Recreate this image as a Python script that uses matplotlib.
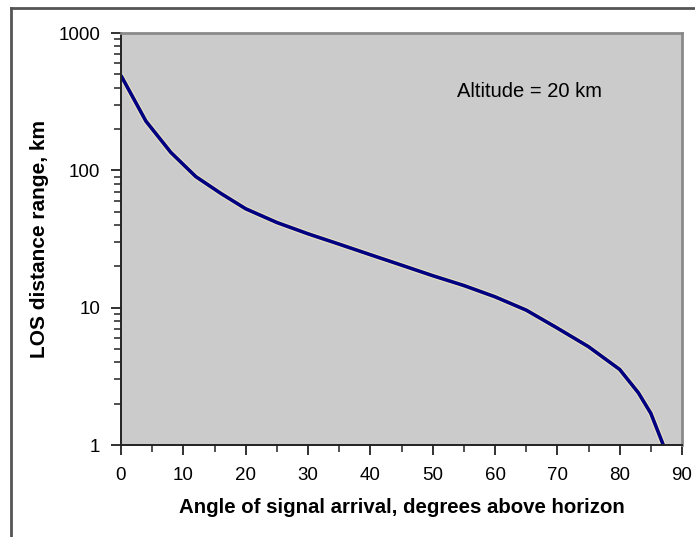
import matplotlib
matplotlib.use("Agg")
import matplotlib.pyplot as plt
import matplotlib.patheffects as pe
from matplotlib.lines import Line2D
from matplotlib.ticker import FixedLocator, NullFormatter, LogLocator, MultipleLocator

# ─── Data ────────────────────────────────────────────────────────────────────

angle_deg = [0, 4, 8, 12, 16, 20, 25, 30, 35, 40, 45, 50, 55, 60, 65, 70, 75, 80, 83, 85, 87]
los_km = [490, 228, 135, 90, 68, 52.5, 41.7, 34.5, 29, 24.3, 20.4, 17.1, 14.5, 12.0,
          9.6, 7.1, 5.2, 3.55, 2.4, 1.7, 1.0]

y_ticks = [1, 10, 100, 1000]
y_tick_labels = ["1", "10", "100", "1000"]
x_ticks = list(range(0, 91, 10))
annotation = "Altitude = 20 km"

W, H = 695, 537

plt.rcParams["font.family"] = ["Liberation Sans", "DejaVu Sans"]

fig = plt.figure(figsize=(W / 100, H / 100), dpi=100)
fig.patch.set_facecolor("white")

# outer chart frame (only top and left edges are visible in the crop)
fig.add_artist(Line2D([11 / W, 1.0], [1 - 8 / H, 1 - 8 / H], transform=fig.transFigure,
                      color="#555555", lw=2))
fig.add_artist(Line2D([11 / W, 11 / W], [0.0, 1 - 8 / H], transform=fig.transFigure,
                      color="#555555", lw=2))

left, right, top, bottom = 121, 682, 33, 445
ax = fig.add_axes([left / W, 1 - bottom / H, (right - left) / W, (bottom - top) / H])
ax.set_facecolor("#CBCBCB")

ax.plot(angle_deg, los_km, color="#000080", lw=2.6, solid_capstyle="butt",
        solid_joinstyle="round",
        path_effects=[pe.Stroke(linewidth=4.2, foreground="#E9E2C4"), pe.Normal()])

ax.set_yscale("log")
ax.set_xlim(0, 90)
ax.set_ylim(1, 1000)

ax.yaxis.set_major_locator(FixedLocator(y_ticks))
ax.set_yticklabels(y_tick_labels)
ax.yaxis.set_minor_locator(LogLocator(base=10, subs=range(2, 10)))
ax.yaxis.set_minor_formatter(NullFormatter())
ax.set_xticks(x_ticks)
ax.xaxis.set_minor_locator(MultipleLocator(5))

ax.tick_params(axis="both", which="major", direction="out", length=7, width=1.3,
               color="#222222", labelsize=13.5, labelcolor="black")
ax.tick_params(axis="y", which="major", pad=8)
ax.tick_params(axis="x", which="major", pad=9)
ax.tick_params(axis="both", which="minor", direction="out", length=5, width=1.1,
               color="#222222")

for side in ("top", "right"):
    ax.spines[side].set_color("#8A8A8A")
    ax.spines[side].set_linewidth(2)
for side in ("left", "bottom"):
    ax.spines[side].set_color("#222222")
    ax.spines[side].set_linewidth(1.4)

ax.set_xlabel("Angle of signal arrival, degrees above horizon", fontsize=14.7,
              fontweight="bold", labelpad=10)
ax.set_ylabel("LOS distance range, km", fontsize=15, fontweight="bold", labelpad=7)

ax.text(0.728, 0.857, annotation, transform=ax.transAxes, fontsize=14.5,
        ha="center", va="center", color="black")

fig.savefig("out.png", dpi=100)
